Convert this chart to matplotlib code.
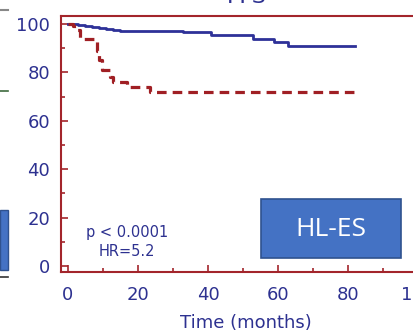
import matplotlib.pyplot as plt
from matplotlib.patches import Rectangle
from matplotlib.lines import Line2D
from matplotlib.ticker import MultipleLocator

# ---- data (Kaplan-Meier style steps) ----
blue_t = [0, 3, 5, 7, 9, 11, 13, 15, 24, 33, 41, 53, 59, 63, 82]
blue_s = [100, 99.6, 99.2, 98.8, 98.4, 98.0, 97.6, 97.3, 97.0, 96.7, 95.5, 93.8, 92.4, 91.0, 91.0]

red_t = [0, 1.5, 2.5, 3.5, 8.2, 8.8, 9.6, 12, 13, 17, 23.4, 82]
red_s = [100, 99.2, 97.5, 93.7, 89.0, 85.0, 81.0, 78.0, 76.0, 73.8, 71.7, 71.7]

xticks = [0, 20, 40, 60, 80, 100]
yticks = [0, 20, 40, 60, 80, 100]

axis_red = '#A3252B'
label_blue = '#2D3190'
line_blue = '#2E3198'
line_red = '#A01F24'


# pixel helpers for the overlay annotations (y from the top)
def px(x, y):
    return x / 413, 1 - y / 336


fig = plt.figure(figsize=(4.13, 3.36), dpi=100)
ax = fig.add_axes([61 / 413, 64 / 336, 374.5 / 413, 256 / 336])

ax.step(blue_t, blue_s, where='post', color=line_blue, lw=2.0)
ax.step(red_t, red_s, where='post', color=line_red, lw=2.3, dashes=(3.0, 1.9))

ax.set_xlim(-2, 105)
ax.set_ylim(-2.5, 103.3)
ax.set_xticks(xticks)
ax.set_yticks(yticks)
ax.xaxis.set_minor_locator(MultipleLocator(10))
ax.yaxis.set_minor_locator(MultipleLocator(10))

for side in ['left', 'bottom', 'top']:
    ax.spines[side].set_color(axis_red)
    ax.spines[side].set_linewidth(1.5)
ax.spines['right'].set_visible(False)

ax.tick_params(which='both', direction='in', color=axis_red, width=1.2,
               labelcolor=label_blue, labelsize=13, top=False, right=False)
ax.tick_params(which='major', length=5)
ax.tick_params(which='minor', length=3)
ax.tick_params(axis='y', pad=8)
ax.tick_params(axis='x', pad=10)

ax.set_xlabel('Time (months)', color=label_blue, fontsize=13)
ax.xaxis.set_label_coords((246 - 61) / 374.5, -42 / 256)

fig.text(*px(127, 232), 'p < 0.0001', fontsize=10.5, color=label_blue,
         ha='center', va='center')
fig.text(*px(127, 252), 'HR=5.2', fontsize=10.5, color=label_blue,
         ha='center', va='center')

# HL-ES box
bx0, by0 = px(261, 258)
fig.patches.append(Rectangle((bx0, by0), 140 / 413, 59 / 336, transform=fig.transFigure,
                             facecolor='#4472C4', edgecolor='#2F528F', lw=1.2))
fig.text(*px(331, 229), 'HL-ES', family='Open Sans', fontsize=19, color='white',
         ha='center', va='center')

# cut-off title at the top
fig.text(*px(247, 3), 'PFS', fontsize=16, color=label_blue, ha='center', va='baseline')

# remnants of neighbouring slide content on the left edge
fig.patches.append(Rectangle(px(0, 270), 8 / 413, 60 / 336, transform=fig.transFigure,
                             facecolor='#4472C4', edgecolor='#2F528F', lw=1))
fig.lines.append(Line2D([0, 8 / 413], [1 - 10 / 336] * 2, transform=fig.transFigure,
                        color='#888888', lw=1.5))
fig.lines.append(Line2D([0, 8 / 413], [1 - 91 / 336] * 2, transform=fig.transFigure,
                        color='#3E6B3E', lw=1.2))
fig.lines.append(Line2D([0, 8 / 413], [1 - 277 / 336] * 2, transform=fig.transFigure,
                        color='#333333', lw=1.2))

fig.savefig('out.png', dpi=100)
